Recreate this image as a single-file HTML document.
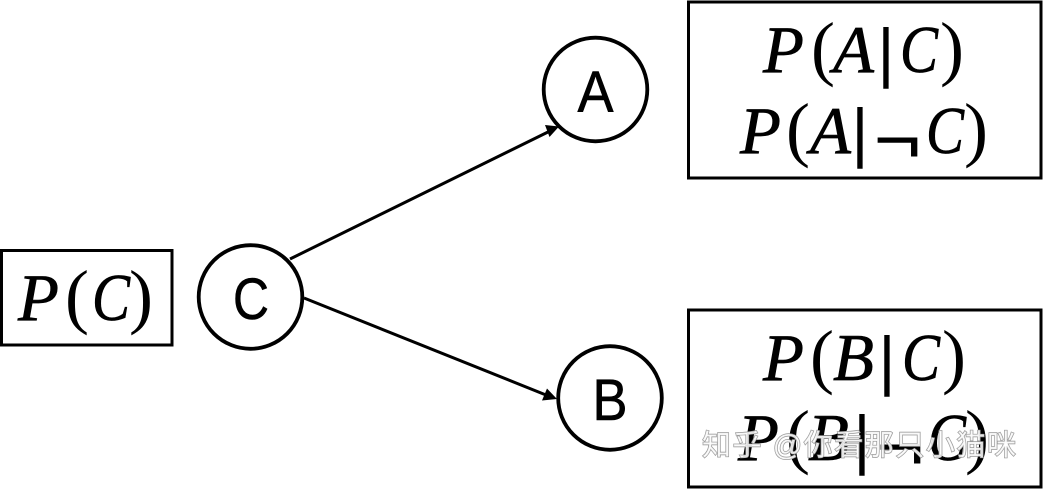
<!DOCTYPE html>
<html><head><meta charset="utf-8"><style>
html,body{margin:0;padding:0;background:#fff;width:1043px;height:489px;overflow:hidden}
svg{display:block}
.m{font:italic 67px "Liberation Serif",serif;fill:#000;stroke:#000;stroke-width:.7px}
.p{font:72px "Liberation Serif",serif;fill:#000}
.b{font:66px "Liberation Sans",sans-serif;fill:#000;text-anchor:middle}
.n{font:66px "Liberation Sans",sans-serif;fill:#000;stroke:#000;stroke-width:.5px}
.l{font:58px "Liberation Sans",sans-serif;fill:#000;text-anchor:middle;stroke:#000;stroke-width:.6px}
.w{font:29px "Liberation Sans","Noto Sans CJK SC",sans-serif;fill:#fff;stroke:#999;stroke-width:1.4px;paint-order:stroke;fill-opacity:.85}
</style></head><body>
<svg width="1043" height="489" viewBox="0 0 1043 489" xmlns="http://www.w3.org/2000/svg">
<g fill="none" stroke="#000" stroke-width="3">
<rect x="688.5" y="2" width="352.500" height="176"/>
<rect x="688.500" y="310" width="352.500" height="177"/>
<rect x="1.500" y="250.500" width="170.500" height="94.500"/>
<line x1="290" y1="259" x2="548" y2="132"/>
<line x1="304" y1="298" x2="546" y2="395"/>
</g>
<g fill="none" stroke="#000" stroke-width="3.800">
<circle cx="250.500" cy="297" r="51.800"/>
<circle cx="595.500" cy="89.500" r="51.800"/>
<circle cx="610" cy="398" r="51.800"/>
</g>
<polygon points="559,126.500 545,125 549.500,137" fill="#000"/>
<polygon points="557,399 547,388.500 542,400.500" fill="#000"/>

<text class="l" x="595.500" y="112" textLength="36" lengthAdjust="spacingAndGlyphs">A</text>
<text class="l" x="251" y="319" textLength="36" lengthAdjust="spacingAndGlyphs">C</text>
<text class="l" x="610" y="420" textLength="35" lengthAdjust="spacingAndGlyphs">B</text>

<text class="m" x="18" y="320">P</text><text class="p" x="65" y="320">(</text><text class="m" x="92" y="320" textLength="38" lengthAdjust="spacingAndGlyphs">C</text><text class="p" x="129" y="320">)</text>

<text class="m" x="763" y="72">P</text><text class="p" x="811" y="72">(</text><text class="m" x="833" y="72">A</text><text class="b" x="886" y="75">|</text><text class="m" x="900" y="72" textLength="38" lengthAdjust="spacingAndGlyphs">C</text><text class="p" x="940" y="72">)</text>
<text class="m" x="740" y="153">P</text><text class="p" x="786" y="153">(</text><text class="m" x="810" y="153">A</text><text class="b" x="860" y="155">|</text><text class="n" x="874" y="162" textLength="47" lengthAdjust="spacingAndGlyphs">¬</text><text class="m" x="926" y="153" textLength="38" lengthAdjust="spacingAndGlyphs">C</text><text class="p" x="964" y="153">)</text>

<text class="m" x="763" y="380">P</text><text class="p" x="810" y="380">(</text><text class="m" x="833" y="380">B</text><text class="b" x="887" y="383">|</text><text class="m" x="902" y="380" textLength="38" lengthAdjust="spacingAndGlyphs">C</text><text class="p" x="942" y="380">)</text>
<text class="m" x="738" y="460">P</text><text class="p" x="786" y="460">(</text><text class="m" x="808" y="460">B</text><text class="b" x="862" y="462">|</text><text class="n" x="877" y="469" textLength="47" lengthAdjust="spacingAndGlyphs">¬</text><text class="m" x="928" y="460" textLength="38" lengthAdjust="spacingAndGlyphs">C</text><text class="p" x="965" y="460">)</text>

<text class="w" x="702" y="455" textLength="314" lengthAdjust="spacing">知乎 @你看那只小猫咪</text>
</svg>
</body></html>
